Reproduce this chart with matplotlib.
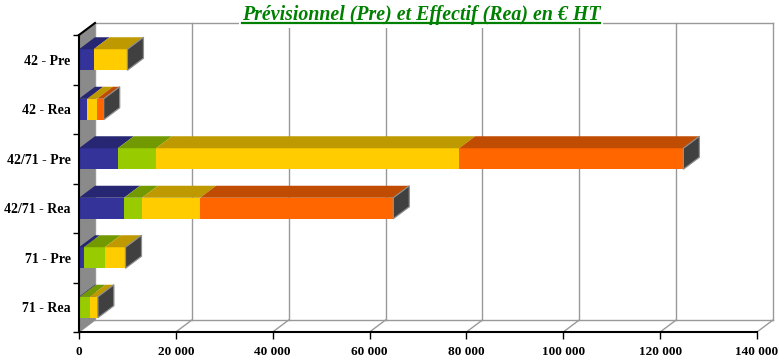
import matplotlib
matplotlib.use("Agg")
import matplotlib.pyplot as plt
from matplotlib.patches import Polygon
from matplotlib.lines import Line2D

# ---------------- data ----------------
categories = ["42 - Pre", "42 - Rea", "42/71 - Pre", "42/71 - Rea", "71 - Pre", "71 - Rea"]
serie_bleu = [3000, 1700, 8000, 9300, 1000, 200]
serie_vert = [0, 0, 7900, 3700, 4300, 2000]
serie_jaune = [7000, 2000, 62600, 12000, 4300, 1700]
serie_orange = [0, 1400, 46300, 39900, 0, 0]
x_ticks = [0, 20000, 40000, 60000, 80000, 100000, 120000, 140000]
title = "Prévisionnel (Pre) et Effectif (Rea) en € HT"

# ---------------- style ----------------
front_colors = ["#333399", "#99CC00", "#FFCC00", "#FF6600"]
top_colors = ["#262673", "#739900", "#BF9900", "#BF4C00"]
SIDE = "#404040"
GRID = "#999999"
WALL = "#8a8a8a"
FONT = "Liberation Serif"

W, H = 779, 361
fig = plt.figure(figsize=(W / 100, H / 100), dpi=100)
ax = fig.add_axes([79 / W, (H - 332) / H, (757 - 79) / W, (332 - 35) / H])
XMAX = x_ticks[-1]
ax.set_xlim(0, XMAX)
ax.set_ylim(-0.5, len(categories) - 0.5)

# depth offsets in data units (16 px right, 12 px up)
DX = 16 * XMAX / (757 - 79)
DY = 12 * len(categories) / (332 - 35)
BH = 21 * len(categories) / (332 - 35)

y0, y1 = -0.5, len(categories) - 0.5

# back wall grid and floor lines
for v in x_ticks:
    ax.add_line(Line2D([v + DX, v + DX], [y0 + DY, y1 + DY], color=GRID, lw=1, zorder=1, clip_on=False))
    ax.add_line(Line2D([v, v + DX], [y0, y0 + DY], color=GRID, lw=1, zorder=1, clip_on=False))
ax.add_line(Line2D([DX, XMAX + DX], [y1 + DY, y1 + DY], color=GRID, lw=1, zorder=1, clip_on=False))
ax.add_line(Line2D([DX, XMAX + DX], [y0 + DY, y0 + DY], color=GRID, lw=1, zorder=1, clip_on=False))
# left wall
ax.add_patch(Polygon([(0, y0), (0, y1), (DX, y1 + DY), (DX, y0 + DY)], closed=True,
                     facecolor=WALL, edgecolor="none", zorder=1.5, clip_on=False))
ax.add_line(Line2D([0, DX], [y1, y1 + DY], color="black", lw=1.5, zorder=5, clip_on=False))

# bars
n = len(categories)
ypos = [n - 1 - i for i in range(n)]
series = [serie_bleu, serie_vert, serie_jaune, serie_orange]
lefts = [0] * n
for s, vals in enumerate(series):
    ax.barh(ypos, vals, left=lefts, height=BH, color=front_colors[s], linewidth=0, zorder=3)
    for i in range(n):
        if vals[i] <= 0:
            continue
        l, w, yc = lefts[i], vals[i], ypos[i]
        ax.add_patch(Polygon([(l, yc + BH / 2), (l + w, yc + BH / 2), (l + w + DX, yc + BH / 2 + DY),
                              (l + DX, yc + BH / 2 + DY)], closed=True, facecolor=top_colors[s],
                             edgecolor="none", zorder=3, clip_on=False))
    lefts = [lefts[i] + vals[i] for i in range(n)]
for i in range(n):
    T, yc = lefts[i], ypos[i]
    ax.add_patch(Polygon([(T, yc - BH / 2), (T, yc + BH / 2), (T + DX, yc + BH / 2 + DY),
                          (T + DX, yc - BH / 2 + DY)], closed=True, facecolor=SIDE,
                         edgecolor="#8f8f8f", lw=0.9, zorder=4, clip_on=False))

# axes
for sp in ["top", "right"]:
    ax.spines[sp].set_visible(False)
for sp in ["left", "bottom"]:
    ax.spines[sp].set_color("black")
    ax.spines[sp].set_linewidth(1.5)
    ax.spines[sp].set_zorder(5)

ax.set_xticks(x_ticks)
ax.set_xticklabels([f"{v:,}".replace(",", " ") for v in x_ticks], fontfamily=FONT,
                   fontweight="bold", fontsize=9.5)
ax.tick_params(axis="x", direction="out", length=5, width=1, color="black", pad=5)
ax.set_yticks([y0 + k for k in range(n + 1)])
ax.set_yticklabels([])
ax.tick_params(axis="y", which="major", direction="out", length=4, width=1, color="black")
ax.set_yticks(ypos, minor=True)
ax.set_yticklabels(categories, minor=True, fontfamily=FONT, fontweight="bold", fontsize=10)
ax.tick_params(axis="y", which="minor", length=0, pad=6)

# title with underline
t = fig.text(421 / W, 1 - 20 / H, title, ha="center", va="baseline", color="#008000",
             fontfamily=FONT, fontweight="bold", fontstyle="italic", fontsize=14.3,
             bbox=dict(facecolor="white", edgecolor="none", pad=2), zorder=6)
fig.canvas.draw()
bb = t.get_window_extent(fig.canvas.get_renderer())
uy = (H - 23) / H
fig.add_artist(Line2D([bb.x0 / W, bb.x1 / W], [uy, uy], transform=fig.transFigure,
                      color="#008000", lw=1.6, zorder=7))

fig.savefig("out.png", dpi=100)
